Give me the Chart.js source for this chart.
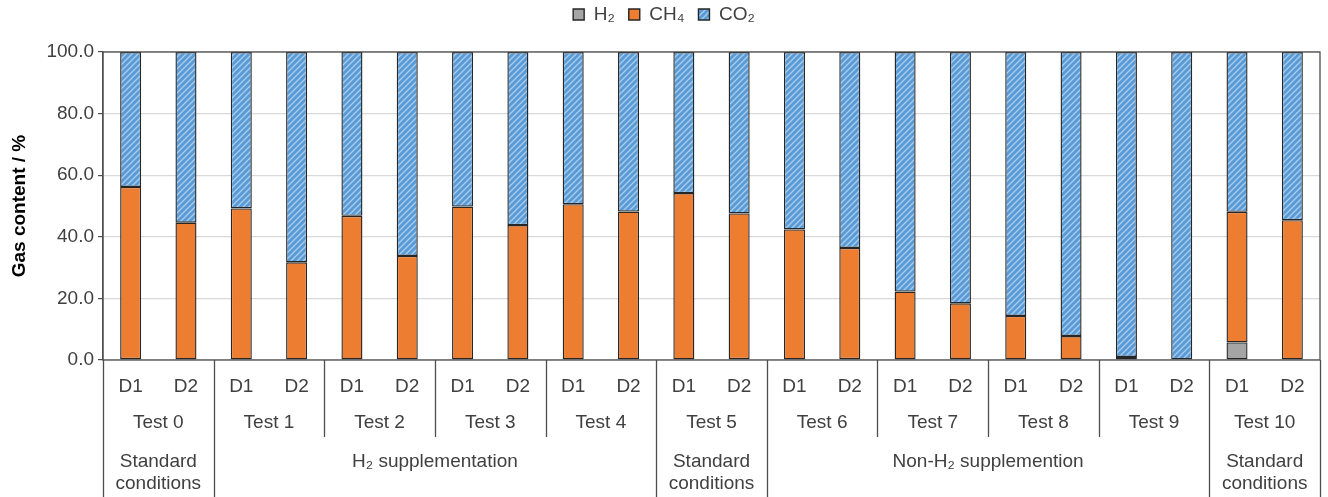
<!DOCTYPE html>
<html>
<head>
<meta charset="utf-8">
<script src="https://cdn.jsdelivr.net/npm/chart.js@4.4.1/dist/chart.umd.min.js"></script>
<style>
  body { margin: 0; background: #fff; }
  canvas { display: block; }
</style>
</head>
<body>
<canvas id="gasChart" width="1328" height="497"></canvas>
<script>
const categories = ['D1', 'D2', 'D1', 'D2', 'D1', 'D2', 'D1', 'D2', 'D1', 'D2', 'D1', 'D2',
    'D1', 'D2', 'D1', 'D2', 'D1', 'D2', 'D1', 'D2', 'D1', 'D2'];
const testLabels = ['Test 0', 'Test 1', 'Test 2', 'Test 3', 'Test 4', 'Test 5',
    'Test 6', 'Test 7', 'Test 8', 'Test 9', 'Test 10'];
const groupLabels = [['Standard', 'conditions'], ['H\u2082 supplementation'], ['Standard', 'conditions'],
    ['Non-H\u2082 supplemention'], ['Standard', 'conditions']];
const groupTestCounts = [1, 4, 1, 4, 1];

const h2Values = [0.3, 0, 0, 0, 0, 0, 0, 0, 0, 0, 0, 0.3, 0, 0.3, 0, 0, 0, 0, 0, 0, 5.7, 0];
const ch4Values = [55.9, 44.6, 49.2, 31.7, 46.8, 33.8, 49.8, 43.8, 50.6, 48.2, 54.2, 47.3,
    42.4, 36.1, 22.2, 18.4, 14.3, 7.8, 1.0, 0, 42.4, 45.4];
const co2Values = [43.8, 55.4, 50.8, 68.3, 53.2, 66.2, 50.2, 56.2, 49.4, 51.8, 45.8, 52.4,
    57.6, 63.6, 77.8, 81.6, 85.7, 92.2, 99.0, 100, 51.9, 54.6];

const yTicks = [0, 20, 40, 60, 80, 100];

const textColor = '#404040';
const lineColor = '#4d4d4d';
const fontSize = 19;

// diagonal hatch for the CO2 bars
const makeHatch = () => {
    const size = 6;
    const c = document.createElement('canvas');
    c.width = size;
    c.height = size;
    const g = c.getContext('2d');
    g.fillStyle = '#5b9bd5';
    g.fillRect(0, 0, size, size);
    g.strokeStyle = '#a9cdee';
    g.lineWidth = 1.3;
    g.beginPath();
    g.moveTo(-1, 1); g.lineTo(1, -1);
    g.moveTo(0, size); g.lineTo(size, 0);
    g.moveTo(size - 1, size + 1); g.lineTo(size + 1, size - 1);
    g.stroke();
    return g.createPattern(c, 'repeat');
};

// legend sits higher, with extra room under it so the plot starts lower
const legendSpacer = {
    id: 'legendSpacer',
    beforeInit(chart) {
        const legend = chart.legend;
        const origFit = legend.fit;
        const origDraw = legend.draw;
        legend.fit = function () {
            origFit.call(this);
            this.height += 9;
        };
        legend.draw = function () {
            this.ctx.save();
            this.ctx.translate(4, -9);
            origDraw.call(this);
            this.ctx.restore();
        };
    }
};

const axisGroupsPlugin = {
    id: 'axisGroups',
    afterDraw(chart) {
        const { ctx, chartArea: a, scales: { x } } = chart;
        const catW = x.getPixelForValue(1) - x.getPixelForValue(0);
        ctx.save();
        ctx.strokeStyle = lineColor;
        ctx.lineWidth = 1.3;
        ctx.strokeRect(a.left, a.top, a.right - a.left, a.bottom - a.top);

        // test separators, longer ones at group edges
        const groupEdges = new Set([0]);
        let acc = 0;
        groupTestCounts.forEach(n => { acc += n; groupEdges.add(acc); });
        for (let t = 0; t <= testLabels.length; t++) {
            const xp = Math.round(x.getPixelForValue(2 * t) - catW / 2) + 0.5;
            const yEnd = groupEdges.has(t) ? chart.height : a.bottom + 77;
            ctx.beginPath();
            ctx.moveTo(xp, a.bottom);
            ctx.lineTo(xp, yEnd);
            ctx.stroke();
        }

        ctx.fillStyle = textColor;
        ctx.font = fontSize + 'px "Liberation Sans", Arial, sans-serif';
        ctx.textAlign = 'center';
        ctx.textBaseline = 'middle';
        testLabels.forEach((label, t) => {
            const cx = x.getPixelForValue(2 * t) + catW / 2;
            ctx.fillText(label, cx, a.bottom + 63);
        });

        let start = 0;
        groupLabels.forEach((lines, gi) => {
            const n = groupTestCounts[gi];
            const cx = x.getPixelForValue(2 * start) - catW / 2 + n * catW;
            lines.forEach((line, li) => {
                ctx.fillText(line, cx, a.bottom + 102 + li * 22);
            });
            start += n;
        });
        ctx.restore();
    }
};

Chart.defaults.font.family = '"Liberation Sans", Arial, sans-serif';
Chart.defaults.color = textColor;

const ctx = document.getElementById('gasChart').getContext('2d');
new Chart(ctx, {
    type: 'bar',
    data: {
        labels: categories,
        datasets: [
            {
                label: 'H\u2082',
                data: h2Values,
                backgroundColor: '#a5a5a5',
                borderColor: '#262626',
                borderWidth: 1.4,
                borderSkipped: false
            },
            {
                label: 'CH\u2084',
                data: ch4Values,
                backgroundColor: '#ed7d31',
                borderColor: '#262626',
                borderWidth: 1.4,
                borderSkipped: false
            },
            {
                label: 'CO\u2082',
                data: co2Values,
                backgroundColor: makeHatch(),
                borderColor: '#262626',
                borderWidth: 1.4,
                borderSkipped: false
            }
        ]
    },
    options: {
        responsive: false,
        animation: false,
        layout: { padding: { left: 0, right: 8, top: 0, bottom: 0 } },
        datasets: {
            bar: { barPercentage: 0.38, categoryPercentage: 1 }
        },
        scales: {
            x: {
                stacked: true,
                grid: { display: false },
                border: { display: false },
                ticks: { color: textColor, font: { size: fontSize }, padding: 7, maxRotation: 0, autoSkip: false },
                afterFit: s => { s.height = 137; }
            },
            y: {
                stacked: true,
                min: 0,
                max: 100,
                afterBuildTicks: s => { s.ticks = yTicks.map(v => ({ value: v })); },
                grid: { color: '#d9d9d9', tickColor: lineColor, tickLength: 5, lineWidth: 1.2 },
                border: { display: true, color: lineColor, width: 1.3 },
                ticks: {
                    color: textColor,
                    font: { size: fontSize },
                    padding: 4,
                    callback: v => v.toFixed(1)
                },
                title: {
                    display: true,
                    text: 'Gas content / %',
                    color: '#000',
                    font: { size: fontSize, weight: 'bold' },
                    padding: { top: 8, bottom: 6 }
                },
                afterFit: s => { s.width = 103; }
            }
        },
        plugins: {
            legend: {
                position: 'top',
                labels: {
                    color: textColor,
                    font: { size: fontSize },
                    boxWidth: 11,
                    boxHeight: 11,
                    padding: 14
                }
            },
            tooltip: { enabled: false }
        }
    },
    plugins: [legendSpacer, axisGroupsPlugin]
});
</script>
</body>
</html>
